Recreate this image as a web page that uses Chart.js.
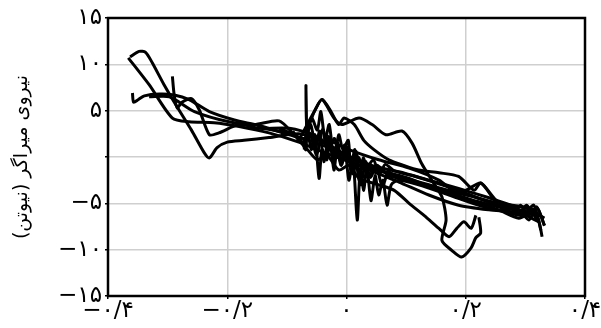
<!DOCTYPE html>
<html>
<head>
<meta charset="utf-8">
<script src="https://cdn.jsdelivr.net/npm/chart.js"></script>
<style>
  body { margin: 0; background: #fff; }
  #wrap { width: 601px; height: 328px; }
</style>
</head>
<body>
<div id="wrap"><canvas id="chart"></canvas></div>
<script>
// displacement (x) vs damper force (y), one array per cycle
var run1 = [[-0.363,10.8],[-0.348,11.4],[-0.337,11.3],[-0.326,10.2],[-0.306,7.8],[-0.284,5.4],[-0.260,2.9],[-0.239,0.5],[-0.230,-0.1],[-0.217,1.0],[-0.200,1.6],[-0.172,1.8],[-0.130,2.1],[-0.080,2.5],[-0.046,1.8],[-0.021,0.8],[0.004,-0.3],[0.038,-1.4],[0.088,-2.7],[0.138,-4.1],[0.188,-5.2],[0.239,-5.7],[0.289,-6.0],[0.323,-7.0]];
var run2 = [[-0.366,10.7],[-0.331,7.8],[-0.292,4.2],[-0.264,3.8],[-0.222,3.7],[-0.180,3.3],[-0.130,2.6],[-0.080,1.6],[-0.038,0.5],[-0.004,-0.3],[0.038,-1.2],[0.088,-2.1],[0.138,-3.0],[0.180,-3.8],[0.214,-4.3],[0.255,-5.0],[0.297,-5.4],[0.332,-6.6]];
var run3 = [[-0.359,6.9],[-0.357,5.9],[-0.349,6.2],[-0.339,6.6],[-0.314,6.8],[-0.289,6.7],[-0.264,6.2],[-0.230,4.9],[-0.188,4.0],[-0.147,3.4],[-0.096,2.4],[-0.063,1.8],[-0.029,1.0],[0.004,0.1],[0.046,-1.0],[0.088,-1.6],[0.138,-2.5],[0.188,-3.4],[0.239,-4.4],[0.281,-5.3],[0.314,-5.7],[0.323,-7.0],[0.328,-8.6]];
var run4 = [[-0.292,8.7],[-0.289,6.7],[-0.284,5.3],[-0.276,5.9],[-0.260,6.3],[-0.247,5.1],[-0.230,2.4],[-0.214,2.6],[-0.180,3.5],[-0.147,3.1],[-0.096,3.1],[-0.054,2.3],[-0.021,1.0],[0.013,-0.3],[0.054,-1.4],[0.105,-2.3],[0.155,-3.6],[0.205,-4.7],[0.255,-5.7],[0.289,-6.6],[0.314,-6.0],[0.323,-7.0]];
var run5 = [[-0.331,6.5],[-0.297,6.5],[-0.255,4.9],[-0.197,3.8],[-0.155,3.5],[-0.113,3.9],[-0.088,2.4],[-0.068,1.0],[-0.049,-0.3],[-0.033,0.2],[-0.013,-1.4],[0.004,-0.9],[0.021,-2.3],[0.054,-3.0],[0.080,-3.6],[0.105,-5.0],[0.130,-6.3],[0.155,-7.7],[0.172,-8.6],[0.185,-7.7],[0.197,-7.0],[0.209,-7.7],[0.217,-6.3]];
var run6 = [[-0.080,1.8],[-0.054,4.9],[-0.041,6.2],[-0.021,4.2],[-0.008,3.5],[0.021,4.2],[0.043,3.5],[0.066,2.4],[0.093,2.8],[0.110,1.5],[0.126,-0.7],[0.143,-2.5],[0.160,-4.3],[0.167,-6.8],[0.160,-9.0],[0.177,-10.1],[0.193,-10.8],[0.209,-9.8],[0.217,-8.7],[0.225,-8.2],[0.222,-6.5]];
var run7 = [[-0.029,1.8],[0.004,0.8],[0.054,-0.3],[0.105,-1.2],[0.155,-2.5],[0.185,-3.9],[0.200,-3.6],[0.225,-2.8],[0.244,-4.3],[0.260,-5.5],[0.281,-6.1],[0.292,-5.2],[0.306,-6.3],[0.319,-5.4],[0.332,-7.4]];
var run8 = [[-0.080,1.8],[-0.071,1.3],[-0.066,3.1],[-0.059,0.8],[-0.053,2.4],[-0.046,-2.3],[-0.041,0.8],[-0.033,-0.3],[-0.028,1.8],[-0.021,-1.4],[-0.016,0.8],[-0.009,-0.9],[-0.003,1.3],[0.004,-2.5],[0.011,-0.3],[0.018,-6.8],[0.023,-1.4],[0.029,-3.6],[0.034,-0.9],[0.041,-4.7],[0.048,-2.0],[0.054,-4.1],[0.061,-2.5],[0.068,-5.2],[0.075,-3.0],[0.088,-2.5],[0.121,-3.0],[0.172,-4.1],[0.222,-5.2],[0.272,-6.0],[0.297,-6.3],[0.314,-5.2],[0.326,-7.9]];
var run9 = [[-0.071,0.8],[-0.064,3.1],[-0.058,4.2],[-0.049,2.9],[-0.043,4.9],[-0.036,1.8],[-0.029,3.5],[-0.021,-0.3],[-0.013,2.4],[-0.006,0.8],[0.003,1.8],[0.007,-1.4],[0.014,0.8],[0.021,-2.5],[0.028,-0.1],[0.038,-2.0],[0.051,-0.9],[0.071,-2.0],[0.105,-2.5],[0.155,-3.4],[0.205,-4.1],[0.255,-5.2],[0.289,-5.7],[0.306,-6.8],[0.319,-5.4],[0.332,-7.4]];
var run10 = [[-0.113,3.1],[-0.080,2.1],[-0.068,0.8],[-0.068,7.7],[-0.066,3.1],[-0.054,4.9],[-0.041,6.2],[-0.026,4.9],[-0.013,3.5],[-0.004,4.2],[0.013,3.5],[0.029,1.8],[0.046,0.8],[0.071,-0.3],[0.096,-0.9],[0.121,-1.4],[0.155,-1.7],[0.188,-2.1],[0.214,-3.6],[0.225,-2.8],[0.247,-4.4],[0.264,-5.7],[0.289,-6.1],[0.302,-5.2],[0.314,-6.3]];
var run11 = [[-0.150,3.2],[-0.100,2.6],[-0.070,2.0],[-0.060,3.5],[-0.052,1.0],[-0.045,2.8],[-0.038,-0.5],[-0.030,2.2],[-0.022,0.2],[-0.015,1.6],[-0.008,-0.8],[0.000,1.2],[0.008,-1.0],[0.016,0.6],[0.024,-3.0],[0.032,-0.5],[0.040,-2.2],[0.050,-1.0],[0.060,-3.2],[0.070,-1.6],[0.080,-2.0],[0.120,-2.8],[0.170,-3.8],[0.220,-4.8],[0.270,-5.6],[0.310,-6.0],[0.320,-6.8]];
var run12 = [[-0.090,2.8],[-0.075,1.5],[-0.062,2.6],[-0.050,0.2],[-0.040,3.0],[-0.030,0.8],[-0.020,2.0],[-0.010,-0.5],[0.000,0.9],[0.010,-1.8],[0.020,0.0],[0.030,-1.5],[0.045,-0.3],[0.055,-1.9],[0.065,-0.8],[0.080,-1.5],[0.110,-2.0],[0.160,-3.0],[0.200,-3.9],[0.240,-4.9],[0.280,-5.5],[0.300,-6.0]];

var runs = [run1, run2, run3, run4, run5, run6, run7, run8, run9, run10, run11, run12];

// tick labels (Persian digits)
var xTickValues = [-0.4, -0.2, 0, 0.2, 0.4];
var xTickLabels = ['−۰/۴', '−۰/۲', '۰', '۰/۲', '۰/۴'];
var yTickValues = [15, 10, 5, 0, -5, -10, -15];
var yTickLabels = ['۱۵', '۱۰', '۵', '', '−۵', '−۱۰', '−۱۵'];
var yTitle = '\u200Fنیروی میراگر (نیوتن)\u200F';

function lookup(values, labels, v) {
    for (var i = 0; i < values.length; i++) {
        if (Math.abs(values[i] - v) < 1e-6) return labels[i];
    }
    return '';
}

var frame = {
    id: 'frame',
    afterDraw: function(chart) {
        var a = chart.chartArea, ctx = chart.ctx;
        ctx.save();
        ctx.strokeStyle = '#000';
        ctx.lineWidth = 2.5;
        ctx.strokeRect(a.left, a.top, a.right - a.left, a.bottom - a.top);
        ctx.restore();
    }
};

var font = { family: 'DejaVu Sans', size: 23 };

new Chart(document.getElementById('chart'), {
    type: 'scatter',
    data: {
        datasets: runs.map(function(r) {
            return {
                data: r.map(function(p) { return { x: p[0], y: p[1] }; }),
                showLine: true,
                borderColor: '#000',
                borderWidth: 3,
                pointRadius: 0,
                tension: 0.25
            };
        })
    },
    options: {
        responsive: true,
        maintainAspectRatio: false,
        animation: false,
        layout: { padding: { top: 18, right: 16, left: 0, bottom: 0 } },
        plugins: { legend: { display: false }, tooltip: { enabled: false } },
        scales: {
            x: {
                type: 'linear',
                min: -0.4, max: 0.4,
                afterBuildTicks: function(s) { s.ticks = xTickValues.map(function(v) { return { value: v }; }); },
                afterFit: function(s) { s.height = 32; },
                grid: { color: '#cfcfcf', lineWidth: 1.5, tickLength: 3, tickColor: '#000' },
                border: { display: false },
                ticks: {
                    color: '#000', font: font, padding: -2, maxRotation: 0,
                    callback: function(v) { return lookup(xTickValues, xTickLabels, v); }
                }
            },
            y: {
                min: -15, max: 15,
                afterBuildTicks: function(s) { s.ticks = yTickValues.map(function(v) { return { value: v }; }); },
                afterFit: function(s) { s.width = 108; },
                grid: { color: '#cfcfcf', lineWidth: 1.5, tickLength: 3, tickColor: '#000' },
                border: { display: false },
                title: { display: true, text: yTitle, color: '#000', font: { family: 'DejaVu Sans', size: 19 }, padding: { top: 11, bottom: 4 } },
                ticks: {
                    color: '#000', font: font, padding: 3,
                    callback: function(v) { return lookup(yTickValues, yTickLabels, v); }
                }
            }
        }
    },
    plugins: [frame]
});
</script>
</body>
</html>
